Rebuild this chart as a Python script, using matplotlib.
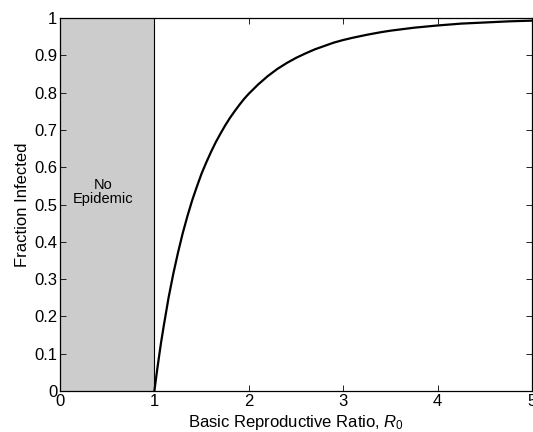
import matplotlib
matplotlib.use("Agg")
import matplotlib.pyplot as plt

plt.rcParams['font.family'] = ['Liberation Sans', 'DejaVu Sans']
plt.rcParams['mathtext.fontset'] = 'custom'
plt.rcParams['mathtext.rm'] = 'Liberation Sans'
plt.rcParams['mathtext.it'] = 'Liberation Sans:italic'

# Values
r0_values = [1.0, 1.01, 1.02, 1.03, 1.05, 1.07, 1.1, 1.15, 1.2, 1.25, 1.3, 1.35, 1.4,
             1.45, 1.5, 1.55, 1.6, 1.65, 1.7, 1.75, 1.8, 1.85, 1.9, 1.95, 2.0, 2.1,
             2.2, 2.3, 2.4, 2.5, 2.6, 2.7, 2.8, 2.9, 3.0, 3.1, 3.25, 3.4, 3.5, 3.75,
             4.0, 4.25, 4.5, 4.75, 5.0]
fraction_infected = [0.0, 0.020, 0.039, 0.058, 0.094, 0.129, 0.176, 0.25, 0.314, 0.371,
                     0.423, 0.469, 0.511, 0.548, 0.583, 0.613, 0.641, 0.667, 0.690,
                     0.712, 0.732, 0.750, 0.767, 0.783, 0.797, 0.822, 0.844, 0.863,
                     0.879, 0.893, 0.905, 0.916, 0.925, 0.934, 0.941, 0.947, 0.955,
                     0.962, 0.966, 0.974, 0.980, 0.985, 0.988, 0.991, 0.993]
no_epidemic_range = [0, 1]
x_ticks = [0, 1, 2, 3, 4, 5]
y_ticks = [0, 0.1, 0.2, 0.3, 0.4, 0.5, 0.6, 0.7, 0.8, 0.9, 1]
y_tick_labels = ['0', '0.1', '0.2', '0.3', '0.4', '0.5', '0.6', '0.7', '0.8', '0.9', '1']

fig = plt.figure(figsize=(5.33, 4.32), dpi=100)
ax = fig.add_axes([0.1126, 0.0949, 0.8854, 0.8634])

ax.axvspan(no_epidemic_range[0], no_epidemic_range[1], color='#cccccc', zorder=0, lw=0)
ax.axvline(no_epidemic_range[1], color='black', lw=0.8, zorder=1)
ax.plot(r0_values, fraction_infected, color='black', lw=1.6, zorder=2,
        solid_joinstyle='round')

ax.text(0.455, 0.534, 'No\nEpidemic', ha='center', va='center', fontsize=10.5,
        linespacing=1.05)

ax.set_xlim(0, 5)
ax.set_ylim(0, 1)
ax.set_xticks(x_ticks)
ax.set_yticks(y_ticks)
ax.set_yticklabels(y_tick_labels)
ax.tick_params(direction='in', top=True, right=True, length=4, width=0.6,
               labelsize=12, pad=2)
for s in ax.spines.values():
    s.set_linewidth(0.9)

ax.set_xlabel('Basic Reproductive Ratio, $R_0$', fontsize=12, labelpad=3)
ax.set_ylabel('Fraction Infected', fontsize=12, labelpad=3)

fig.savefig('out.png', dpi=100)
